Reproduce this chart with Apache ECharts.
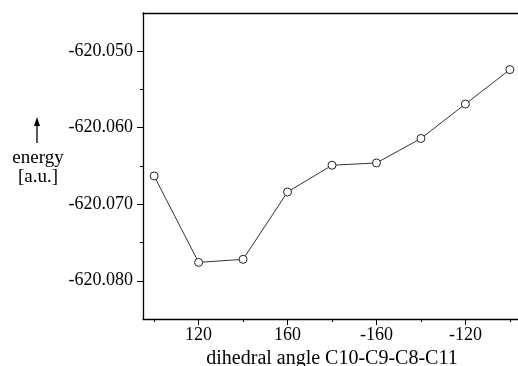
<!DOCTYPE html>
<html>
<head>
<meta charset="utf-8">
<script src="https://cdn.jsdelivr.net/npm/echarts@6/dist/echarts.min.js"></script>
<style>html,body{margin:0;padding:0;background:#fff;}#c{width:518px;height:366px;}</style>
</head>
<body>
<div id="c"></div>
<script>
// dihedral angle C10-C9-C8-C11 (degrees, as displayed)
const angles = [100, 120, 140, 160, 180, -160, -140, -120, -100];
// energy [a.u.]
const energies = [-620.0663, -620.0776, -620.0772, -620.0684, -620.0649, -620.0646, -620.0614, -620.0569, -620.0524];
// tick labels (displayed angle values) and minor tick angles
const xMajorTicks = [120, 160, -160, -120];
const xMinorTicks = [100, 140, 180, -140, -100];
const yMajorTicks = [-620.080, -620.070, -620.060, -620.050];
const yMinorTicks = [-620.075, -620.065, -620.055];

const unwrap = a => (a < 0 ? a + 360 : a);
const wrap = v => (v > 180 ? v - 360 : v);
const FONT = '"Liberation Serif", "DejaVu Serif", serif';
const xMin = 95, xMax = 265, yMin = -620.085, yMax = -620.045;

const chart = echarts.init(document.getElementById('c'));
chart.setOption({
  animation: false,
  backgroundColor: '#fff',
  grid: { left: 143, top: 13, right: -3, bottom: 47, containLabel: false, outerBoundsMode: 'none' },
  xAxis: [
    {
      type: 'value', min: xMin, max: xMax, position: 'bottom',
      axisLine: { show: true, lineStyle: { color: '#000', width: 1.3 } },
      axisTick: { show: true, length: 6, inside: false, customValues: xMajorTicks.map(unwrap), lineStyle: { color: '#000', width: 1 } },
      axisLabel: { show: true, customValues: xMajorTicks.map(unwrap), margin: 7, color: '#000', fontFamily: FONT, fontSize: 18, formatter: v => String(wrap(v)) },
      splitLine: { show: false },
      name: 'dihedral angle C10-C9-C8-C11', nameLocation: 'middle', nameGap: 29,
      nameTextStyle: { color: '#000', fontFamily: FONT, fontSize: 20 }
    },
    {
      type: 'value', min: xMin, max: xMax, position: 'bottom',
      axisLine: { show: false },
      axisTick: { show: true, length: 3, customValues: xMinorTicks.map(unwrap), lineStyle: { color: '#000', width: 1 } },
      axisLabel: { show: false },
      splitLine: { show: false }
    },
    {
      type: 'value', min: xMin, max: xMax, position: 'top',
      axisLine: { show: true, lineStyle: { color: '#000', width: 1.3 } },
      axisTick: { show: false }, axisLabel: { show: false }, splitLine: { show: false }
    }
  ],
  yAxis: [
    {
      type: 'value', min: yMin, max: yMax, position: 'left',
      axisLine: { show: true, lineStyle: { color: '#000', width: 1.3 } },
      axisTick: { show: true, length: 6, customValues: yMajorTicks, lineStyle: { color: '#000', width: 1 } },
      axisLabel: { show: true, customValues: yMajorTicks, margin: 10, color: '#000', fontFamily: FONT, fontSize: 18, formatter: v => v.toFixed(3) },
      splitLine: { show: false }
    },
    {
      type: 'value', min: yMin, max: yMax, position: 'left',
      axisLine: { show: false },
      axisTick: { show: true, length: 3, customValues: yMinorTicks, lineStyle: { color: '#000', width: 1 } },
      axisLabel: { show: false },
      splitLine: { show: false }
    }
  ],
  series: [{
    type: 'line',
    xAxisIndex: 0, yAxisIndex: 0,
    data: angles.map((a, i) => [unwrap(a), energies[i]]),
    symbol: 'circle', symbolSize: 8,
    itemStyle: { color: '#fff', borderColor: '#222', borderWidth: 1 },
    lineStyle: { color: '#333', width: 1 }
  }],
  graphic: [
    { type: 'line', shape: { x1: 37, y1: 143, x2: 37, y2: 124 }, style: { stroke: '#000', lineWidth: 1.3 } },
    { type: 'polygon', shape: { points: [[34, 126], [40, 126], [37, 117]] }, style: { fill: '#000' } },
    { type: 'text', x: 38, y: 158, style: { text: 'energy', font: '19px ' + FONT, fill: '#000', textAlign: 'center', textVerticalAlign: 'middle' } },
    { type: 'text', x: 38, y: 177, style: { text: '[a.u.]', font: '19px ' + FONT, fill: '#000', textAlign: 'center', textVerticalAlign: 'middle' } }
  ]
});
</script>
</body>
</html>
